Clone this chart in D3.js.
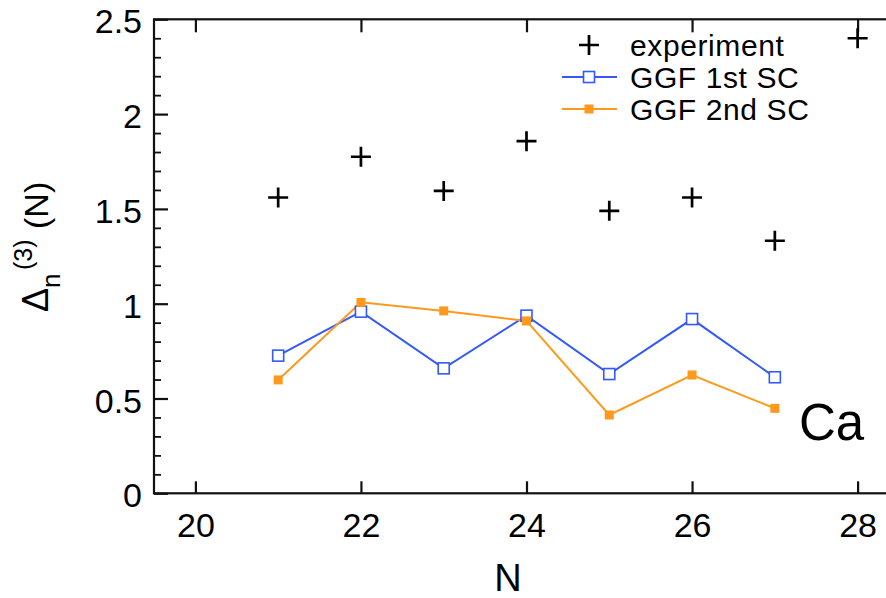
<!DOCTYPE html>
<html>
<head>
<meta charset="utf-8">
<script src="https://cdn.jsdelivr.net/npm/d3@7"></script>
<style>
  html, body { margin: 0; padding: 0; background: #fff; }
  svg { display: block; font-family: "Liberation Sans", Arial, Helvetica, sans-serif; }
</style>
</head>
<body>
<svg id="chart" width="886" height="598"></svg>
<script>
// Three-point odd-even mass staggering for Ca isotopes
const nValues = [21, 22, 23, 24, 25, 26, 27, 28];
const experiment = [1.56, 1.775, 1.595, 1.857, 1.49, 1.56, 1.332, 2.40];
const ggf1stN = [21, 22, 23, 24, 25, 26, 27];
const ggf1st = [0.726, 0.958, 0.659, 0.937, 0.629, 0.919, 0.612];
const ggf2ndN = [21, 22, 23, 24, 25, 26, 27];
const ggf2nd = [0.598, 1.007, 0.962, 0.909, 0.413, 0.624, 0.448];
const xTicks = [20, 22, 24, 26, 28];
const yTicks = [0, 0.5, 1, 1.5, 2, 2.5];
const yMinorTicks = d3.range(0, 2.5001, 0.1);
const legendLabels = ["experiment", "GGF 1st SC", "GGF 2nd SC"];

const BLUE = "#3358ff";
const ORANGE = "#ff991c";

const svg = d3.select("#chart");
const m = { left: 154, top: 19.3, bottom: 493.3, right: 899 };

const x = d3.scaleLinear().domain([19.5, 28.5]).range([m.left, m.right]);
const y = d3.scaleLinear().domain([0, 2.5]).range([m.bottom, m.top]);

// frame
svg.append("rect").attr("x", m.left).attr("y", m.top)
  .attr("width", m.right - m.left).attr("height", m.bottom - m.top)
  .attr("fill", "none").attr("stroke", "#111").attr("stroke-width", 2.2);

// left axis: major + minor ticks inward
const yAxis = d3.axisLeft(y).tickValues(yTicks).tickSize(-14).tickPadding(12)
  .tickFormat(d => d === 0 ? "0" : String(d));
const gy = svg.append("g").attr("transform", `translate(${m.left},0)`).call(yAxis);
gy.select(".domain").remove();
gy.selectAll(".tick line").attr("stroke", "#111").attr("stroke-width", 2.2);
gy.selectAll(".tick text").attr("font-size", 34).attr("fill", "#000").attr("dy", "0.4em");

const gyMinor = svg.append("g").attr("transform", `translate(${m.left},0)`)
  .call(d3.axisLeft(y).tickValues(yMinorTicks.filter(v => Math.abs(v * 2 - Math.round(v * 2)) > 1e-6)).tickSize(-7).tickFormat(""));
gyMinor.select(".domain").remove();
gyMinor.selectAll(".tick line").attr("stroke", "#111").attr("stroke-width", 1.8);

// bottom axis, ticks inward
const xAxis = d3.axisBottom(x).tickValues(xTicks).tickSize(-12).tickPadding(19);
const gx = svg.append("g").attr("transform", `translate(0,${m.bottom})`).call(xAxis);
gx.select(".domain").remove();
gx.selectAll(".tick line").attr("stroke", "#111").attr("stroke-width", 2.2);
gx.selectAll(".tick text").attr("font-size", 34).attr("fill", "#000").attr("dy", "0.72em");

// top axis, ticks inward, no labels
const gxTop = svg.append("g").attr("transform", `translate(0,${m.top})`)
  .call(d3.axisTop(x).tickValues(xTicks).tickSize(-13).tickFormat(""));
gxTop.select(".domain").remove();
gxTop.selectAll(".tick line").attr("stroke", "#111").attr("stroke-width", 2.2);

// axis titles
svg.append("text").attr("x", 508).attr("y", 591).attr("text-anchor", "middle")
  .attr("font-size", 38).attr("fill", "#000").text("N");

const yl = svg.append("g").attr("transform", "translate(48,312) rotate(-90)").attr("fill", "#000");
yl.append("text").attr("x", 0).attr("y", 0).attr("font-size", 36).text("Δ");
yl.append("text").attr("x", 24).attr("y", 12).attr("font-size", 26).text("n");
yl.append("text").attr("x", 42).attr("y", -16).attr("font-size", 25).text("(3)");
yl.append("text").attr("x", 83).attr("y", 0).attr("font-size", 34).text("(N)");

// element label
svg.append("text").attr("x", 799).attr("y", 440).attr("font-size", 51).attr("fill", "#000").text("Ca");

// series
const line = d3.line().x(d => x(d[0])).y(d => y(d[1]));
const s1 = d3.zip(ggf1stN, ggf1st);
const s2 = d3.zip(ggf2ndN, ggf2nd);

svg.append("path").datum(s1).attr("d", line).attr("fill", "none").attr("stroke", BLUE).attr("stroke-width", 2);
svg.append("path").datum(s2).attr("d", line).attr("fill", "none").attr("stroke", ORANGE).attr("stroke-width", 2);

svg.append("g").selectAll("rect").data(s1).join("rect")
  .attr("x", d => x(d[0]) - 5.5).attr("y", d => y(d[1]) - 5.5)
  .attr("width", 11).attr("height", 11)
  .attr("fill", "#fff").attr("stroke", BLUE).attr("stroke-width", 1.6);

svg.append("g").selectAll("rect").data(s2).join("rect")
  .attr("x", d => x(d[0]) - 4.5).attr("y", d => y(d[1]) - 4.5)
  .attr("width", 9).attr("height", 9).attr("fill", ORANGE);

const plus = "M-10,0H10M0,-10V10";
svg.append("g").selectAll("path").data(d3.zip(nValues, experiment)).join("path")
  .attr("transform", d => `translate(${x(d[0])},${y(d[1])})`)
  .attr("d", plus).attr("stroke", "#000").attr("stroke-width", 2.7).attr("fill", "none");

// legend
const lg = svg.append("g");
const rows = [45, 77, 109];
lg.append("path").attr("transform", `translate(589,${rows[0]})`).attr("d", plus)
  .attr("stroke", "#000").attr("stroke-width", 2.7);
lg.append("line").attr("x1", 562).attr("x2", 617).attr("y1", rows[1]).attr("y2", rows[1])
  .attr("stroke", BLUE).attr("stroke-width", 2);
lg.append("rect").attr("x", 583.5).attr("y", rows[1] - 5.5).attr("width", 11).attr("height", 11)
  .attr("fill", "#fff").attr("stroke", BLUE).attr("stroke-width", 1.6);
lg.append("line").attr("x1", 562).attr("x2", 617).attr("y1", rows[2]).attr("y2", rows[2])
  .attr("stroke", ORANGE).attr("stroke-width", 2);
lg.append("rect").attr("x", 584.5).attr("y", rows[2] - 4.5).attr("width", 9).attr("height", 9).attr("fill", ORANGE);
lg.selectAll("text.lab").data(legendLabels).join("text").attr("class", "lab")
  .attr("x", 630).attr("y", (d, i) => rows[i] + 11).attr("font-size", 30)
  .attr("letter-spacing", 0.6).attr("fill", "#000").text(d => d);
</script>
</body>
</html>
